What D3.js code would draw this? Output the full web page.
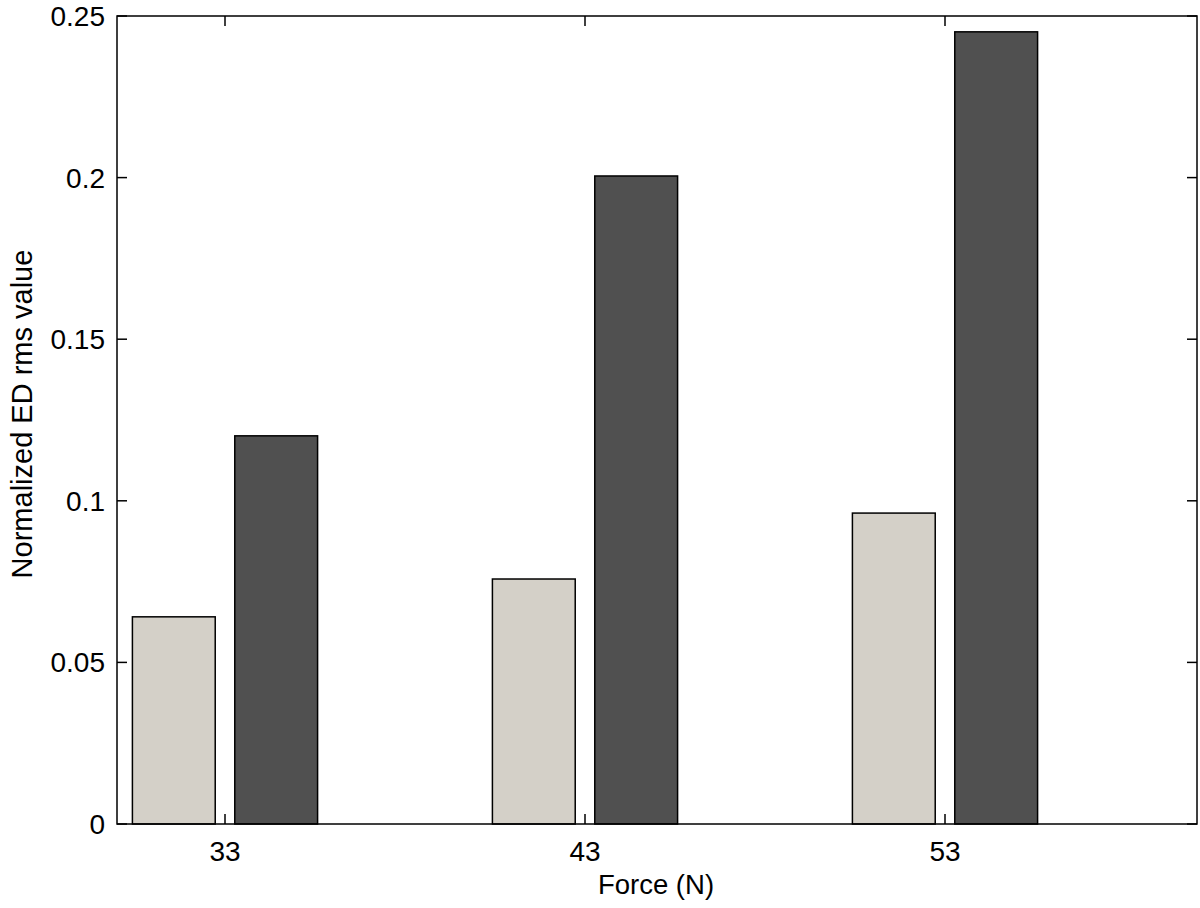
<!DOCTYPE html>
<html>
<head>
<meta charset="utf-8">
<script src="https://cdn.jsdelivr.net/npm/d3@7"></script>
<style>
  html, body { margin: 0; padding: 0; background: #fff; }
  svg { display: block; }
  text { font-family: "Liberation Sans", Arial, sans-serif; fill: #000; }
</style>
</head>
<body>
<svg id="chart" width="1200" height="908"></svg>
<script>
// ---- data ----
const categories = [33, 43, 53];
const seriesNames = ["light", "dark"];
const lightValues = [0.0641, 0.0758, 0.0962];
const darkValues = [0.1201, 0.2005, 0.2451];
const yTicks = [0, 0.05, 0.1, 0.15, 0.2, 0.25];
const yTickLabels = ["0", "0.05", "0.1", "0.15", "0.2", "0.25"];
const xLabel = "Force (N)";
const yLabel = "Normalized ED rms value";

(function () {
// ---- layout ----
const mLeft = 117, mRight = 1197, mTop = 16, mBottom = 824;
const colors = { light: "#d4d0c8", dark: "#505050" };

const svg = d3.select("#chart");
const x = d3.scaleLinear().domain([30, 60]).range([mLeft, mRight]);
const y = d3.scaleLinear().domain([0, 0.25]).range([mBottom, mTop]);

const halfGroup = x(30 + 2.572) - x(30);
const inner = d3.scaleBand().domain(seriesNames).range([-halfGroup, halfGroup]).paddingInner(0.191).paddingOuter(0);

const rows = [];
categories.forEach((c, i) => {
  rows.push({ cat: c, s: "light", v: lightValues[i] });
  rows.push({ cat: c, s: "dark", v: darkValues[i] });
});

svg.append("g").selectAll("rect").data(rows).join("rect")
  .attr("x", d => x(d.cat) + inner(d.s))
  .attr("y", d => y(d.v))
  .attr("width", inner.bandwidth())
  .attr("height", d => y(0) - y(d.v))
  .attr("fill", d => colors[d.s])
  .attr("stroke", "#000")
  .attr("stroke-width", 1.5);

// axes box
const tickLen = 10;
const axG = svg.append("g").attr("stroke", "#000").attr("stroke-width", 1.5).attr("fill", "none");
axG.append("rect").attr("x", mLeft).attr("y", mTop).attr("width", mRight - mLeft).attr("height", mBottom - mTop);

categories.forEach(c => {
  axG.append("line").attr("x1", x(c)).attr("x2", x(c)).attr("y1", mBottom).attr("y2", mBottom - tickLen);
  axG.append("line").attr("x1", x(c)).attr("x2", x(c)).attr("y1", mTop).attr("y2", mTop + tickLen);
});
yTicks.forEach(t => {
  axG.append("line").attr("x1", mLeft).attr("x2", mLeft + tickLen).attr("y1", y(t)).attr("y2", y(t));
  axG.append("line").attr("x1", mRight).attr("x2", mRight - tickLen).attr("y1", y(t)).attr("y2", y(t));
});

// tick labels
svg.append("g").selectAll("text").data(categories).join("text")
  .attr("x", d => x(d)).attr("y", 861)
  .attr("text-anchor", "middle")
  .attr("font-size", 28)
  .text(d => d);

svg.append("g").selectAll("text").data(yTicks).join("text")
  .attr("x", mLeft - 12).attr("y", d => y(d) + 10)
  .attr("text-anchor", "end")
  .attr("font-size", 28)
  .text((d, i) => yTickLabels[i]);

// axis labels
svg.append("text")
  .attr("x", (mLeft + mRight) / 2 - 1).attr("y", 894)
  .attr("text-anchor", "middle").attr("font-size", 27.5)
  .text(xLabel);

svg.append("text")
  .attr("transform", "translate(32,414) rotate(-90)")
  .attr("text-anchor", "middle").attr("font-size", 29)
  .text(yLabel);
})();
</script>
</body>
</html>
